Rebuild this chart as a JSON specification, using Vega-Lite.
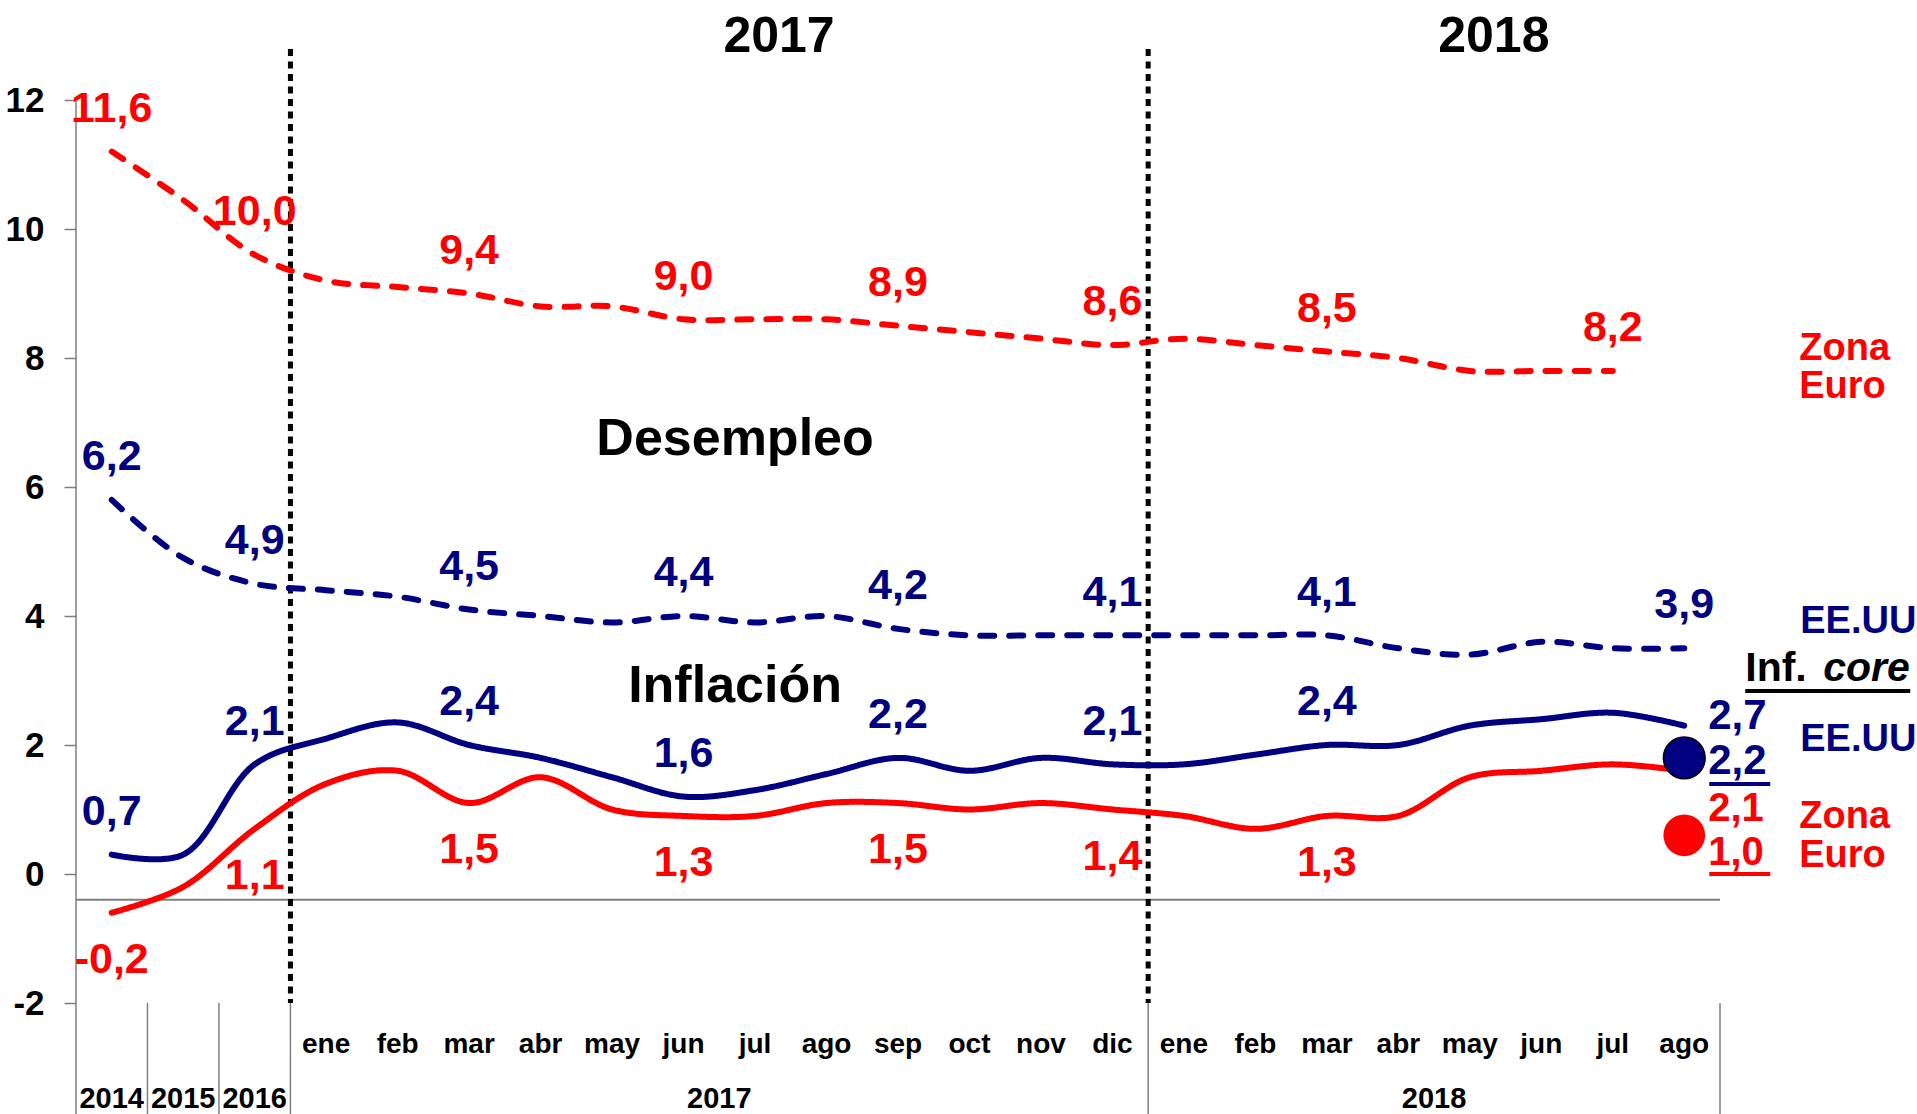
{
  "$schema": "https://vega.github.io/schema/vega-lite/v6.json",
  "width": 1644,
  "height": 903,
  "autosize": {"type": "none"},
  "padding": {"left": 76, "top": 100, "right": 197, "bottom": 111},
  "background": "white",
  "config": {
    "view": {"stroke": null},
    "locale": {"number": {"decimal": ",", "thousands": ".", "grouping": [3], "currency": ["", " €"], "minus": "-"}},
    "text": {"font": "Liberation Sans", "fontWeight": "bold"}
  },
  "datasets": {
    "lines": [
      {"k": "2014", "s": "ue_ze", "v": 11.2}, {"k": "2015", "s": "ue_ze", "v": 10.45}, {"k": "2016", "s": "ue_ze", "v": 9.6},
      {"k": "ene 2017", "s": "ue_ze", "v": 9.2}, {"k": "feb 2017", "s": "ue_ze", "v": 9.1}, {"k": "mar 2017", "s": "ue_ze", "v": 9.0},
      {"k": "abr 2017", "s": "ue_ze", "v": 8.8}, {"k": "may 2017", "s": "ue_ze", "v": 8.8}, {"k": "jun 2017", "s": "ue_ze", "v": 8.6},
      {"k": "jul 2017", "s": "ue_ze", "v": 8.6}, {"k": "ago 2017", "s": "ue_ze", "v": 8.6}, {"k": "sep 2017", "s": "ue_ze", "v": 8.5},
      {"k": "oct 2017", "s": "ue_ze", "v": 8.4}, {"k": "nov 2017", "s": "ue_ze", "v": 8.3}, {"k": "dic 2017", "s": "ue_ze", "v": 8.2},
      {"k": "ene 2018", "s": "ue_ze", "v": 8.3}, {"k": "feb 2018", "s": "ue_ze", "v": 8.2}, {"k": "mar 2018", "s": "ue_ze", "v": 8.1},
      {"k": "abr 2018", "s": "ue_ze", "v": 8.0}, {"k": "may 2018", "s": "ue_ze", "v": 7.8}, {"k": "jun 2018", "s": "ue_ze", "v": 7.8},
      {"k": "jul 2018", "s": "ue_ze", "v": 7.8},

      {"k": "2014", "s": "ue_us", "v": 5.8}, {"k": "2015", "s": "ue_us", "v": 4.9}, {"k": "2016", "s": "ue_us", "v": 4.5},
      {"k": "ene 2017", "s": "ue_us", "v": 4.4}, {"k": "feb 2017", "s": "ue_us", "v": 4.3}, {"k": "mar 2017", "s": "ue_us", "v": 4.1},
      {"k": "abr 2017", "s": "ue_us", "v": 4.0}, {"k": "may 2017", "s": "ue_us", "v": 3.9}, {"k": "jun 2017", "s": "ue_us", "v": 4.0},
      {"k": "jul 2017", "s": "ue_us", "v": 3.9}, {"k": "ago 2017", "s": "ue_us", "v": 4.0}, {"k": "sep 2017", "s": "ue_us", "v": 3.8},
      {"k": "oct 2017", "s": "ue_us", "v": 3.7}, {"k": "nov 2017", "s": "ue_us", "v": 3.7}, {"k": "dic 2017", "s": "ue_us", "v": 3.7},
      {"k": "ene 2018", "s": "ue_us", "v": 3.7}, {"k": "feb 2018", "s": "ue_us", "v": 3.7}, {"k": "mar 2018", "s": "ue_us", "v": 3.7},
      {"k": "abr 2018", "s": "ue_us", "v": 3.5}, {"k": "may 2018", "s": "ue_us", "v": 3.4}, {"k": "jun 2018", "s": "ue_us", "v": 3.6},
      {"k": "jul 2018", "s": "ue_us", "v": 3.5}, {"k": "ago 2018", "s": "ue_us", "v": 3.5},

      {"k": "2014", "s": "inf_us", "v": 0.3}, {"k": "2015", "s": "inf_us", "v": 0.3}, {"k": "2016", "s": "inf_us", "v": 1.7},
      {"k": "ene 2017", "s": "inf_us", "v": 2.1}, {"k": "feb 2017", "s": "inf_us", "v": 2.35}, {"k": "mar 2017", "s": "inf_us", "v": 2.0},
      {"k": "abr 2017", "s": "inf_us", "v": 1.8}, {"k": "may 2017", "s": "inf_us", "v": 1.5}, {"k": "jun 2017", "s": "inf_us", "v": 1.2},
      {"k": "jul 2017", "s": "inf_us", "v": 1.3}, {"k": "ago 2017", "s": "inf_us", "v": 1.55}, {"k": "sep 2017", "s": "inf_us", "v": 1.8},
      {"k": "oct 2017", "s": "inf_us", "v": 1.6}, {"k": "nov 2017", "s": "inf_us", "v": 1.8}, {"k": "dic 2017", "s": "inf_us", "v": 1.7},
      {"k": "ene 2018", "s": "inf_us", "v": 1.7}, {"k": "feb 2018", "s": "inf_us", "v": 1.85}, {"k": "mar 2018", "s": "inf_us", "v": 2.0},
      {"k": "abr 2018", "s": "inf_us", "v": 2.0}, {"k": "may 2018", "s": "inf_us", "v": 2.3}, {"k": "jun 2018", "s": "inf_us", "v": 2.4},
      {"k": "jul 2018", "s": "inf_us", "v": 2.5}, {"k": "ago 2018", "s": "inf_us", "v": 2.3},

      {"k": "2014", "s": "inf_ze", "v": -0.6}, {"k": "2015", "s": "inf_ze", "v": -0.2}, {"k": "2016", "s": "inf_ze", "v": 0.7},
      {"k": "ene 2017", "s": "inf_ze", "v": 1.4}, {"k": "feb 2017", "s": "inf_ze", "v": 1.6}, {"k": "mar 2017", "s": "inf_ze", "v": 1.1},
      {"k": "abr 2017", "s": "inf_ze", "v": 1.5}, {"k": "may 2017", "s": "inf_ze", "v": 1.0}, {"k": "jun 2017", "s": "inf_ze", "v": 0.9},
      {"k": "jul 2017", "s": "inf_ze", "v": 0.9}, {"k": "ago 2017", "s": "inf_ze", "v": 1.1}, {"k": "sep 2017", "s": "inf_ze", "v": 1.1},
      {"k": "oct 2017", "s": "inf_ze", "v": 1.0}, {"k": "nov 2017", "s": "inf_ze", "v": 1.1}, {"k": "dic 2017", "s": "inf_ze", "v": 1.0},
      {"k": "ene 2018", "s": "inf_ze", "v": 0.9}, {"k": "feb 2018", "s": "inf_ze", "v": 0.7}, {"k": "mar 2018", "s": "inf_ze", "v": 0.9},
      {"k": "abr 2018", "s": "inf_ze", "v": 0.9}, {"k": "may 2018", "s": "inf_ze", "v": 1.5}, {"k": "jun 2018", "s": "inf_ze", "v": 1.6},
      {"k": "jul 2018", "s": "inf_ze", "v": 1.7}, {"k": "ago 2018", "s": "inf_ze", "v": 1.6}
    ],
    "labels": [
      {"k": "2014", "s": "ue_ze", "v": 11.6}, {"k": "2016", "s": "ue_ze", "v": 10.0}, {"k": "mar 2017", "s": "ue_ze", "v": 9.4},
      {"k": "jun 2017", "s": "ue_ze", "v": 9.0}, {"k": "sep 2017", "s": "ue_ze", "v": 8.9}, {"k": "dic 2017", "s": "ue_ze", "v": 8.6},
      {"k": "mar 2018", "s": "ue_ze", "v": 8.5}, {"k": "jul 2018", "s": "ue_ze", "v": 8.2},
      {"k": "2014", "s": "ue_us", "v": 6.2}, {"k": "2016", "s": "ue_us", "v": 4.9}, {"k": "mar 2017", "s": "ue_us", "v": 4.5},
      {"k": "jun 2017", "s": "ue_us", "v": 4.4}, {"k": "sep 2017", "s": "ue_us", "v": 4.2}, {"k": "dic 2017", "s": "ue_us", "v": 4.1},
      {"k": "mar 2018", "s": "ue_us", "v": 4.1}, {"k": "ago 2018", "s": "ue_us", "v": 3.9},
      {"k": "2014", "s": "inf_us", "v": 0.7}, {"k": "2016", "s": "inf_us", "v": 2.1}, {"k": "mar 2017", "s": "inf_us", "v": 2.4},
      {"k": "jun 2017", "s": "inf_us", "v": 1.6}, {"k": "sep 2017", "s": "inf_us", "v": 2.2}, {"k": "dic 2017", "s": "inf_us", "v": 2.1},
      {"k": "mar 2018", "s": "inf_us", "v": 2.4},
      {"k": "2014", "s": "inf_ze", "v": -0.2}, {"k": "2016", "s": "inf_ze", "v": 1.1}, {"k": "mar 2017", "s": "inf_ze", "v": 1.5},
      {"k": "jun 2017", "s": "inf_ze", "v": 1.3}, {"k": "sep 2017", "s": "inf_ze", "v": 1.5}, {"k": "dic 2017", "s": "inf_ze", "v": 1.4},
      {"k": "mar 2018", "s": "inf_ze", "v": 1.3}
    ],
    "ends": [
      {"k": "ago 2018", "s": "inf_us", "v": 2.7},
      {"k": "ago 2018", "s": "core_us", "v": 2.2},
      {"k": "ago 2018", "s": "inf_ze", "v": 2.1},
      {"k": "ago 2018", "s": "core_ze", "v": 1.0}
    ],
    "core": [
      {"k": "ago 2018", "s": "core_us", "v": 1.8},
      {"k": "ago 2018", "s": "core_ze", "v": 0.6}
    ],
    "one": [{}]
  },
  "layer": [
    {
      "data": {"name": "one"},
      "mark": {"type": "rule", "color": "#7f7f7f", "strokeWidth": 2},
      "encoding": {"y": {"datum": -0.4, "type": "quantitative"}}
    },
    {
      "data": {"name": "one"},
      "mark": {"type": "rule", "color": "#7f7f7f", "strokeWidth": 1.5, "y2Offset": 111},
      "encoding": {
        "x": {"datum": "2014", "type": "ordinal", "bandPosition": 0},
        "y": {"datum": 12, "type": "quantitative"},
        "y2": {"datum": -2}
      }
    },
    {
      "data": {"values": [{"k": "2015"}, {"k": "2016"}, {"k": "ene 2017"}, {"k": "ene 2018"}]},
      "mark": {"type": "rule", "color": "#7f7f7f", "strokeWidth": 1.5, "y2Offset": 111},
      "encoding": {
        "x": {"field": "k", "type": "ordinal", "bandPosition": 0},
        "y": {"datum": -2, "type": "quantitative"},
        "y2": {"datum": -2}
      }
    },
    {
      "data": {"name": "one"},
      "mark": {"type": "rule", "color": "#7f7f7f", "strokeWidth": 1.5, "y2Offset": 111},
      "encoding": {
        "x": {"datum": "ago 2018", "type": "ordinal", "bandPosition": 1},
        "y": {"datum": -2, "type": "quantitative"},
        "y2": {"datum": -2}
      }
    },
    {
      "data": {"values": [{"k": "ene 2017"}, {"k": "ene 2018"}]},
      "mark": {"type": "rule", "color": "black", "strokeWidth": 5, "strokeDash": [7, 5.5]},
      "encoding": {
        "x": {"field": "k", "type": "ordinal", "bandPosition": 0},
        "y": {"datum": 12.79, "type": "quantitative"},
        "y2": {"datum": -2}
      }
    },
    {
      "data": {"name": "lines"},
      "mark": {"type": "line", "interpolate": "catmull-rom", "strokeWidth": 6, "strokeCap": "round"},
      "encoding": {
        "x": {
          "field": "k", "type": "ordinal",
          "scale": {"type": "band", "paddingInner": 0, "paddingOuter": 0,
            "domain": ["2014", "2015", "2016", "ene 2017", "feb 2017", "mar 2017", "abr 2017", "may 2017", "jun 2017", "jul 2017", "ago 2017", "sep 2017", "oct 2017", "nov 2017", "dic 2017", "ene 2018", "feb 2018", "mar 2018", "abr 2018", "may 2018", "jun 2018", "jul 2018", "ago 2018"]},
          "sort": null,
          "axis": {
            "orient": "bottom", "title": null, "domain": false, "ticks": false, "tickSize": 0, "grid": false,
            "labelExpr": "indexof(datum.value, ' ') > 0 ? split(datum.value, ' ')[0] : ''",
            "labelFont": "Liberation Sans",
            "labelFontWeight": "bold", "labelFontSize": 28, "labelColor": "black",
            "labelPadding": 49, "labelBaseline": "alphabetic", "labelAlign": "center", "labelAngle": 0, "labelOverlap": false, "labelFlush": false
          }
        },
        "y": {
          "field": "v", "type": "quantitative",
          "scale": {"domain": [-2, 12], "nice": false, "zero": false},
          "axis": {
            "title": null, "values": [-2, 0, 2, 4, 6, 8, 10, 12], "format": "d", "domain": false, "grid": false,
            "ticks": true, "tickSize": 12, "tickColor": "#7f7f7f", "tickWidth": 1.5,
            "labelFont": "Liberation Sans", "labelFontWeight": "bold", "labelFontSize": 35, "labelColor": "black",
            "labelPadding": 20
          }
        },
        "color": {"field": "s", "type": "nominal", "legend": null,
          "scale": {"domain": ["ue_ze", "ue_us", "inf_us", "inf_ze"], "range": ["#ff0000", "#000080", "#000080", "#ff0000"]}},
        "strokeDash": {"field": "s", "type": "nominal", "legend": null,
          "scale": {"domain": ["ue_ze", "ue_us", "inf_us", "inf_ze"], "range": [[14, 15], [14, 15], [1, 0], [1, 0]]}}
      }
    },
    {
      "data": {"name": "core"},
      "transform": [{"filter": "datum.s == 'core_ze'"}],
      "mark": {"type": "point", "filled": true, "size": 1740, "color": "#ff0000", "opacity": 1},
      "encoding": {
        "x": {"field": "k", "type": "ordinal"},
        "y": {"field": "v", "type": "quantitative"}
      }
    },
    {
      "data": {"name": "core"},
      "transform": [{"filter": "datum.s == 'core_us'"}],
      "mark": {"type": "point", "filled": true, "size": 1740, "fill": "#000080", "stroke": "black", "strokeWidth": 1.5, "opacity": 1},
      "encoding": {
        "x": {"field": "k", "type": "ordinal"},
        "y": {"field": "v", "type": "quantitative"}
      }
    },
    {
      "data": {"name": "labels"},
      "transform": [{"filter": "datum.s != 'inf_ze'"}],
      "mark": {"type": "text", "fontSize": 43, "baseline": "middle", "align": "center", "dy": -17},
      "encoding": {
        "x": {"field": "k", "type": "ordinal"},
        "y": {"field": "v", "type": "quantitative"},
        "text": {"field": "v", "type": "quantitative", "format": ".1f"},
        "color": {"field": "s", "type": "nominal", "legend": null}
      }
    },
    {
      "data": {"name": "labels"},
      "transform": [{"filter": "datum.s == 'inf_ze'"}],
      "mark": {"type": "text", "fontSize": 43, "baseline": "middle", "align": "center", "dy": 73},
      "encoding": {
        "x": {"field": "k", "type": "ordinal"},
        "y": {"field": "v", "type": "quantitative"},
        "text": {"field": "v", "type": "quantitative", "format": ".1f"},
        "color": {"field": "s", "type": "nominal", "legend": null}
      }
    },
    {
      "data": {"name": "ends"},
      "transform": [{"filter": "datum.s == 'inf_us'"}],
      "mark": {"type": "text", "fontSize": 42, "baseline": "middle", "align": "left", "dx": 24, "dy": 16, "color": "#000080"},
      "encoding": {
        "x": {"field": "k", "type": "ordinal"},
        "y": {"field": "v", "type": "quantitative"},
        "text": {"field": "v", "type": "quantitative", "format": ".1f"}
      }
    },
    {
      "data": {"name": "ends"},
      "transform": [{"filter": "datum.s == 'core_us'"}],
      "mark": {"type": "text", "fontSize": 42, "baseline": "middle", "align": "left", "dx": 24, "dy": 29, "color": "#000080"},
      "encoding": {
        "x": {"field": "k", "type": "ordinal"},
        "y": {"field": "v", "type": "quantitative"},
        "text": {"field": "v", "type": "quantitative", "format": ".1f"}
      }
    },
    {
      "data": {"name": "ends"},
      "transform": [{"filter": "datum.s == 'inf_ze'"}],
      "mark": {"type": "text", "fontSize": 40, "baseline": "middle", "align": "left", "dx": 24, "dy": 70, "color": "#ff0000"},
      "encoding": {
        "x": {"field": "k", "type": "ordinal"},
        "y": {"field": "v", "type": "quantitative"},
        "text": {"field": "v", "type": "quantitative", "format": ".1f"}
      }
    },
    {
      "data": {"name": "ends"},
      "transform": [{"filter": "datum.s == 'core_ze'"}],
      "mark": {"type": "text", "fontSize": 40, "baseline": "middle", "align": "left", "dx": 24, "dy": 43, "color": "#ff0000"},
      "encoding": {
        "x": {"field": "k", "type": "ordinal"},
        "y": {"field": "v", "type": "quantitative"},
        "text": {"field": "v", "type": "quantitative", "format": ".1f"}
      }
    },
    {
      "data": {"name": "one"},
      "mark": {"type": "rule", "color": "#000080", "strokeWidth": 4, "xOffset": 25, "x2Offset": 86},
      "encoding": {
        "x": {"datum": "ago 2018", "type": "ordinal"},
        "x2": {"datum": "ago 2018"},
        "y": {"datum": 1.395, "type": "quantitative"}
      }
    },
    {
      "data": {"name": "one"},
      "mark": {"type": "rule", "color": "#ff0000", "strokeWidth": 4, "xOffset": 25, "x2Offset": 86},
      "encoding": {
        "x": {"datum": "ago 2018", "type": "ordinal"},
        "x2": {"datum": "ago 2018"},
        "y": {"datum": 0.0, "type": "quantitative"}
      }
    },
    {
      "data": {"name": "one"},
      "mark": {"type": "rule", "color": "black", "strokeWidth": 4, "xOffset": 61, "x2Offset": 226},
      "encoding": {
        "x": {"datum": "ago 2018", "type": "ordinal"},
        "x2": {"datum": "ago 2018"},
        "y": {"datum": 2.837, "type": "quantitative"}
      }
    },
    {
      "data": {"name": "one"},
      "mark": {"type": "text", "fontSize": 38, "align": "left", "baseline": "middle", "dx": 115, "dy": -19, "lineHeight": 38.5, "color": "#ff0000"},
      "encoding": {
        "x": {"datum": "ago 2018", "type": "ordinal"},
        "y": {"datum": 7.845, "type": "quantitative"},
        "text": {"value": ["Zona", "Euro"]}
      }
    },
    {
      "data": {"name": "one"},
      "mark": {"type": "text", "fontSize": 38, "align": "left", "baseline": "middle", "dx": 115, "dy": -19, "lineHeight": 38.5, "color": "#ff0000"},
      "encoding": {
        "x": {"datum": "ago 2018", "type": "ordinal"},
        "y": {"datum": 0.589, "type": "quantitative"},
        "text": {"value": ["Zona", "Euro"]}
      }
    },
    {
      "data": {"name": "one"},
      "mark": {"type": "text", "fontSize": 38, "align": "left", "baseline": "middle", "dx": 116, "color": "#000080"},
      "encoding": {
        "x": {"datum": "ago 2018", "type": "ordinal"},
        "y": {"datum": 3.907, "type": "quantitative"},
        "text": {"value": "EE.UU"}
      }
    },
    {
      "data": {"name": "one"},
      "mark": {"type": "text", "fontSize": 38, "align": "left", "baseline": "middle", "dx": 116, "color": "#000080"},
      "encoding": {
        "x": {"datum": "ago 2018", "type": "ordinal"},
        "y": {"datum": 2.078, "type": "quantitative"},
        "text": {"value": "EE.UU"}
      }
    },
    {
      "data": {"name": "one"},
      "mark": {"type": "text", "fontSize": 41, "align": "left", "baseline": "middle", "dx": 61, "color": "black"},
      "encoding": {
        "x": {"datum": "ago 2018", "type": "ordinal"},
        "y": {"datum": 3.178, "type": "quantitative"},
        "text": {"value": "Inf."}
      }
    },
    {
      "data": {"name": "one"},
      "mark": {"type": "text", "fontSize": 41, "align": "left", "baseline": "middle", "dx": 139, "fontStyle": "italic", "color": "black"},
      "encoding": {
        "x": {"datum": "ago 2018", "type": "ordinal"},
        "y": {"datum": 3.178, "type": "quantitative"},
        "text": {"value": "core"}
      }
    },
    {
      "data": {"name": "one"},
      "mark": {"type": "text", "fontSize": 52, "align": "center", "baseline": "alphabetic", "dx": -20, "color": "black"},
      "encoding": {
        "x": {"datum": "jul 2017", "type": "ordinal"},
        "y": {"datum": 6.496, "type": "quantitative"},
        "text": {"value": "Desempleo"}
      }
    },
    {
      "data": {"name": "one"},
      "mark": {"type": "text", "fontSize": 52, "align": "center", "baseline": "alphabetic", "dx": -20, "color": "black"},
      "encoding": {
        "x": {"datum": "jul 2017", "type": "ordinal"},
        "y": {"datum": 2.667, "type": "quantitative"},
        "text": {"value": "Inflación"}
      }
    },
    {
      "data": {"values": [{"k": "jul 2017", "t": "2017"}, {"k": "may 2018", "t": "2018"}]},
      "mark": {"type": "text", "fontSize": 50, "align": "center", "baseline": "alphabetic", "dx": 24, "color": "black"},
      "encoding": {
        "x": {"field": "k", "type": "ordinal"},
        "y": {"datum": 12.744, "type": "quantitative"},
        "text": {"field": "t", "type": "nominal"}
      }
    },
    {
      "data": {"values": [{"k": "2014", "t": "2014"}, {"k": "2015", "t": "2015"}, {"k": "2016", "t": "2016"}]},
      "mark": {"type": "text", "fontSize": 29, "align": "center", "baseline": "alphabetic", "dy": 105, "color": "black"},
      "encoding": {
        "x": {"field": "k", "type": "ordinal"},
        "y": {"datum": -2, "type": "quantitative"},
        "text": {"field": "t", "type": "nominal"}
      }
    },
    {
      "data": {"values": [{"k": "jul 2017", "t": "2017"}, {"k": "may 2018", "t": "2018"}]},
      "mark": {"type": "text", "fontSize": 29, "align": "center", "baseline": "alphabetic", "dy": 105, "color": "black"},
      "encoding": {
        "x": {"field": "k", "type": "ordinal", "bandPosition": 0},
        "y": {"datum": -2, "type": "quantitative"},
        "text": {"field": "t", "type": "nominal"}
      }
    }
  ]
}
